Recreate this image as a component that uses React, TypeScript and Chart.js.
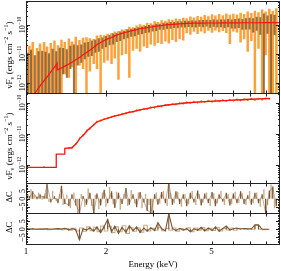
import React, { useEffect, useRef } from 'react';
import { Chart, registerables } from 'chart.js';

Chart.register(...registerables);

// ---------- data (fluxes in units of 1e-11 erg cm^-2 s^-1) ----------
const UNIT = 1e-11;

const ENERGY = [
  1.00, 1.03, 1.06, 1.10, 1.13, 1.17, 1.20, 1.24, 1.28, 1.32,
  1.36, 1.40, 1.45, 1.49, 1.54, 1.59, 1.64, 1.69, 1.74, 1.80,
  1.85, 1.91, 1.97, 2.03, 2.10, 2.16, 2.23, 2.30, 2.38, 2.45,
  2.53, 2.61, 2.69, 2.78, 2.86, 2.95, 3.05, 3.14, 3.24, 3.35,
  3.45, 3.56, 3.67, 3.79, 3.91, 4.03, 4.16, 4.29, 4.43, 4.57,
  4.71, 4.86, 5.02, 5.17, 5.34, 5.51, 5.68, 5.86, 6.04, 6.23,
  6.43, 6.63, 6.84, 7.06, 7.28, 7.51, 7.75, 7.99, 8.25, 8.50,
  8.77,
];

const ENERGY_B = [
  1.015, 1.045, 1.08, 1.115, 1.15, 1.185, 1.22, 1.26, 1.30, 1.34,
  1.38, 1.425, 1.47, 1.515, 1.565, 1.615, 1.665, 1.715, 1.77, 1.825,
  1.88, 1.94, 2.0, 2.065, 2.13, 2.195, 2.265, 2.34, 2.415, 2.49,
  2.57, 2.65, 2.735, 2.82, 2.905, 3.0, 3.095, 3.19, 3.295, 3.40,
  3.505, 3.615, 3.73, 3.85, 3.97, 4.095, 4.225, 4.36, 4.5, 4.64,
  4.785, 4.94, 5.095, 5.255, 5.425, 5.595, 5.77, 5.95, 6.135, 6.33,
  6.53, 6.735, 6.95, 7.17, 7.395, 7.63, 7.87, 8.12, 8.375, 8.635,
];

// panel 1: orange group error bars (upper / lower ends; 0 = runs off the axis)
const ORANGE_HI = [
  2.5, 1.9, 2.6, 1.6, 2.3, 2.6, 1.8, 2.4, 2.9, 2.0,
  3.1, 2.6, 3.4, 2.7, 3.9, 3.0, 3.6, 3.8, 3.5, 3.3,
  4.3, 4.6, 4.4, 5.0, 5.3, 5.9, 6.2, 7.0, 7.2, 8.6,
  8.4, 9.5, 10.5, 10.2, 11.8, 11.5, 13.4, 12.6, 14.5, 14.0,
  15.6, 15.0, 16.8, 16.2, 17.8, 17.0, 19.5, 18.2, 20.5, 19.0,
  22.0, 20.0, 23.5, 21.0, 24.0, 21.5, 25.0, 22.5, 24.5, 23.0,
  26.5, 24.0, 29.0, 26.0, 31.0, 27.5, 34.0, 29.0, 36.0, 30.0,
  38.0,
];
const ORANGE_LO = [
  0, 0, 0, 0, 0, 0, 0, 0, 0, 0,
  0, 0.2, 0.15, 0.35, 0, 0.4, 0.3, 0, 0.25, 0.45,
  0.3, 0, 0.5, 0.6, 0.45, 0.7, 0.13, 0.9, 1.0, 0.15,
  1.3, 1.5, 1.2, 1.8, 1.6, 2.1, 1.9, 2.4, 2.2, 2.7,
  2.3, 3.0, 2.6, 3.2, 2.9, 5.2, 4.6, 5.8, 4.9, 6.0,
  5.2, 6.3, 5.4, 6.5, 5.6, 6.2, 5.3, 2.2, 6.0, 5.5,
  2.5, 3.2, 1.2, 2.8, 0, 1.5, 0, 0.9, 0, 0,
  0,
];

// panel 1: brown group error bars
const BROWN_HI = [
  1.1, 1.4, 0.9, 1.25, 1.3, 1.2, 1.05, 1.5, 1.25, 1.65,
  1.6, 1.45, 1.9, 2.1, 2.0, 2.1, 2.5, 2.6, 2.9, 3.1,
  3.5, 3.7, 4.2, 4.5, 5.1, 5.4, 6.0, 6.3, 7.0, 7.4,
  7.9, 8.3, 8.9, 9.2, 10.0, 10.2, 10.9, 11.0, 11.8, 11.9,
  12.6, 12.7, 13.3, 13.4, 13.9, 13.9, 14.4, 14.3, 14.8, 14.8,
  15.0, 14.8, 15.4, 15.2, 15.5, 15.3, 16.0, 15.5, 16.0, 16.6,
  16.0, 17.0, 17.8, 17.1, 19.3, 18.6, 24.7, 21.0, 23.5, 22.5,
];
const BROWN_LO = [
  0, 0, 0, 0, 0, 0, 0, 0, 0, 0,
  0.2, 0.15, 0.3, 0, 0.4, 0.5, 0.65, 0.8, 0.85, 1.1,
  1.2, 1.5, 1.7, 2.0, 2.1, 2.6, 2.8, 3.2, 3.5, 3.9,
  4.1, 4.6, 4.8, 5.3, 5.5, 6.0, 6.2, 6.8, 6.8, 7.3,
  7.4, 7.8, 7.7, 8.2, 8.1, 8.5, 8.4, 8.2, 8.6, 8.3,
  8.8, 8.0, 8.6, 8.2, 8.3, 7.9, 8.3, 7.5, 7.6, 7.8,
  6.8, 7.0, 7.0, 5.5, 6.3, 4.6, 0, 5.0, 0, 4.5,
];

// panel 1: folded model
const MODEL1_E = [
  1.00, 1.03, 1.06, 1.10, 1.13, 1.17, 1.20, 1.24, 1.28, 1.31,
  1.31, 1.36, 1.40, 1.45, 1.49, 1.54, 1.59, 1.64, 1.69, 1.74,
  1.80, 1.85, 1.91, 1.97, 2.03, 2.10, 2.16, 2.23, 2.30, 2.38,
  2.45, 2.53, 2.61, 2.69, 2.78, 2.86, 2.95, 3.05, 3.14, 3.24,
  3.35, 3.56, 3.79, 4.03, 4.29, 4.57, 4.86, 5.17, 5.51, 5.86,
  6.23, 6.63, 7.06, 7.51, 7.99, 8.50, 9.05,
];
const MODEL1_V = [
  0.0126, 0.02, 0.035, 0.056, 0.079, 0.12, 0.16, 0.24, 0.35, 0.48,
  0.28, 0.33, 0.38, 0.45, 0.52, 0.63, 0.76, 0.93, 1.12, 1.35,
  1.7, 2.1, 2.5, 2.9, 3.3, 3.7, 4.2, 4.7, 5.1, 5.6,
  6.0, 6.5, 6.9, 7.4, 7.8, 8.1, 8.5, 8.9, 9.3, 9.5,
  10.0, 10.5, 10.9, 11.3, 11.5, 11.6, 11.7, 11.7, 11.8, 11.8,
  11.8, 11.9, 11.9, 11.9, 12.0, 12.0, 12.0,
];

// panel 2: unfolded model (steps at low energy)
const MODEL2_E = [
  1.0, 1.30, 1.30, 1.40, 1.40, 1.49, 1.55, 1.60, 1.66, 1.71,
  1.78, 1.85, 1.95, 2.05, 2.15, 2.26, 2.4, 2.55, 2.69, 2.85,
  3.0, 3.19, 3.4, 3.65, 3.97, 4.4, 4.9, 5.37, 6.0, 6.5,
  6.97, 7.6, 8.3,
];
const MODEL2_V = [
  0.084, 0.084, 0.226, 0.226, 0.345, 0.36, 0.50, 0.74, 1.0, 1.35,
  1.82, 2.44, 2.88, 3.31, 3.76, 4.17, 4.79, 5.37, 6.03, 6.61,
  7.24, 7.94, 8.61, 9.23, 10.0, 10.6, 11.2, 11.75, 12.3, 12.7,
  13.2, 13.6, 14.1,
];

// panel 2: unfolded data
const DATA2_V = [
  null, null, null, null, null, 0.086, null, null, null, null,
  null, null, 0.35, 0.36, 0.47, 0.72, 0.9, 1.28, 1.50, 2.0,
  2.5, 2.7, 3.05, 3.25, 3.55, 3.85, 4.05, 4.4, 4.65, 5.1,
  5.2, 5.75, 5.9, 6.5, 6.5, 7.2, 7.1, 7.9, 7.8, 8.7,
  8.6, 9.3, 9.0, 9.9, 9.6, 10.5, 10.1, 10.9, 10.4, 11.3,
  10.8, 11.8, 11.0, 12.0, 11.4, 12.4, 11.6, 12.6, 11.9, 13.0,
  12.2, 13.1, 12.4, 13.6, 12.5, 13.8, 12.9, 14.0, 13.5, null,
  null,
];

// panel 3: residuals (delta C), brown group at ENERGY, light group at ENERGY_B
const RES3 = [
  3.5, 1.0, 4.0, 0.5, 2.0, 1.0, 8.5, -1.5, 0.8, -2.0,
  7.5, -2.5, -4.0, 2.0, -3.5, -9.0, 1.0, -3.0, 3.0, -9.0,
  2.5, -3.5, 5.0, -2.0, 4.0, -5.0, 3.0, -2.5, 6.0, -3.0,
  2.0, -4.5, 3.5, -1.5, -7.0, -9.0, 2.0, -3.0, 3.5, -2.0,
  10.0, -3.0, 4.0, -2.5, 2.0, -4.0, 3.0, -1.5, 4.5, -3.5,
  2.5, -2.0, 3.5, -4.0, 2.0, -1.0, 3.0, -3.5, 2.5, -2.0,
  4.0, -2.5, 1.5, -3.0, 3.0, -2.0, 2.0, -9.0, 4.5, 7.0,
  -4.0,
];
const RES3_B = [
  2.0, 5.0, 1.5, 3.0, 0.5, 2.5, -1.0, 4.0, -0.5, 2.0,
  -3.0, 1.5, -5.0, 3.0, -8.0, 2.0, -4.0, 5.5, -3.5, 1.5,
  -5.5, 3.0, -4.0, 6.5, -2.5, 3.5, -6.0, 2.0, -3.5, 4.5,
  -2.0, 3.0, -5.0, 2.0, -3.0, -9.0, 3.0, -2.0, 4.0, -3.5,
  2.5, -2.0, 3.5, -4.0, 2.0, -2.5, 4.0, -3.0, 2.0, -1.5,
  3.0, -3.5, 2.5, -2.0, 4.0, -3.0, 2.0, -2.5, 3.5, -1.5,
  2.5, -3.0, 4.0, -2.0, 3.0, -4.0, 5.0, -3.0, 8.0, -5.0,
];

// panel 4: residuals of the second fit
const RES4 = [
  0.2, 0.1, 0.3, 0.0, 0.2, 0.1, 0.3, 0.0, 0.2, 0.4,
  0.1, 0.6, -0.3, 0.5, -0.4, -6.5, 0.3, -0.5, 1.0, -1.2,
  1.5, -2.0, 1.8, 6.0, -1.5, 2.0, -2.5, 1.2, -1.8, 2.2,
  -1.0, 1.5, -2.0, 0.8, -1.2, 1.0, -0.8, 4.0, 0.5, -1.0,
  9.5, 0.5, -0.8, 0.6, -0.5, 0.4, -1.5, 0.3, -0.6, 1.2,
  -1.0, 0.8, -0.8, 1.5, -1.2, 0.6, 2.0, -0.5, 0.4, 0.8,
  0.2, 0.5, 0.3, 0.2, 2.7, 2.7, 0.0, 0.0, 0.0, null,
  null,
];
const RES4_B = [
  0.0, 0.1, -0.1, 0.2, 0.0, 0.1, -0.2, 0.1, 0.3, 0.0,
  -0.3, 0.4, -0.5, 0.6, -1.0, 0.8, -1.2, 1.5, -0.8, 1.2,
  -1.5, 2.0, -1.0, 1.8, -2.0, 1.5, -1.5, 2.2, -2.5, 1.0,
  -1.2, 0.8, -1.8, 2.5, -1.0, 0.6, -0.5, 1.0, -0.8, 0.5,
  -0.6, 0.8, -1.2, 0.4, -0.3, 0.9, -1.4, 0.7, -0.5, 1.1,
  -0.9, 0.6, -0.7, 1.3, -1.0, 0.5, -0.4, 0.8, -0.6, 0.3,
  0.5, 0.2, 0.4, 0.0, 2.5, 0.1, -0.2, 0.0, null, null,
];

// axes
const X_MIN = 1;
const X_MAX = 9.05;
const Y1_MIN = 4.5e-13;
const Y1_MAX = 6.7e-10;
const Y2_MIN = 2.63e-13;
const Y2_MAX = 2.1e-10;
const R_MIN = -9;
const R_MAX = 10;

const X_TICK_VALUES = [1, 2, 5];
const X_TICK_LABELS = ['1', '2', '5'];
const X_TICK_MARKS = [2, 3, 4, 5, 6, 7, 8];
const LOG_TICK_VALUES = [1e-12, 1e-11, 1e-10];
const LOG_TICK_EXPS = ['\u221212', '\u221211', '\u221210'];
const RES_TICK_VALUES = [-5, 0, 5];
const RES_TICK_LABELS = ['\u22125', '0', '5'];
const X_TITLE = 'Energy (keV)';

// ---------- helpers ----------
const ORANGE = 'rgba(255,146,28,0.88)';
const BROWN = 'rgba(112,80,44,0.78)';
const RES_BROWN = '#7c5530';
const RES_TAN = '#c9ad88';
const RED = '#ff1010';
const SERIF = '"Liberation Serif","DejaVu Serif","Times New Roman",serif';

type Pt = { x: number; y: number | null };

function errorBars(E: number[], HI: number[], LO: number[], floor: number): Pt[] {
  const pts: Pt[] = [];
  E.forEach((e, i) => {
    const hi = HI[i] * UNIT;
    const lo = LO[i] > 0 ? Math.max(LO[i] * UNIT, floor) : floor;
    pts.push({ x: e, y: hi }, { x: e, y: lo }, { x: e, y: null });
  });
  return pts;
}

function relBars(E: number[], V: (number | null)[], frac: number): Pt[] {
  const pts: Pt[] = [];
  E.forEach((e, i) => {
    const v = V[i];
    if (v == null) return;
    pts.push({ x: e, y: v * UNIT * (1 + frac) }, { x: e, y: v * UNIT * (1 - frac) }, { x: e, y: null });
  });
  return pts;
}

// residual spikes: vertical segment from zero to the residual, with a +-err pad
function spikes(E: number[], V: (number | null)[], err: number): Pt[] {
  const pts: Pt[] = [];
  E.forEach((e, i) => {
    const v = V[i];
    if (v == null) return;
    const a = Math.min(0, v - err);
    const b = Math.max(0, v + err);
    pts.push({ x: e, y: b }, { x: e, y: a }, { x: e, y: null });
  });
  return pts;
}

function series(E: number[], V: (number | null)[], k = 1): Pt[] {
  return E.map((e, i) => ({ x: e, y: V[i] == null ? null : (V[i] as number) * k }));
}

type Part = { t: string; k?: 'sup' | 'sub' };

function drawRich(ctx: CanvasRenderingContext2D, parts: Part[], x: number, y: number, size: number, rotate: boolean) {
  ctx.save();
  ctx.translate(x, y);
  if (rotate) ctx.rotate(-Math.PI / 2);
  const fontOf = (p: Part) => `${p.k ? size * 0.68 : size}px ${SERIF}`;
  const widths = parts.map((p) => {
    ctx.font = fontOf(p);
    return ctx.measureText(p.t).width;
  });
  const total = widths.reduce((a, b) => a + b, 0);
  let cx = -total / 2;
  ctx.textAlign = 'left';
  ctx.textBaseline = 'alphabetic';
  parts.forEach((p, i) => {
    ctx.font = fontOf(p);
    const dy = p.k === 'sup' ? -size * 0.42 : p.k === 'sub' ? size * 0.25 : 0;
    ctx.fillText(p.t, cx, dy);
    cx += widths[i];
  });
  ctx.restore();
}

const FLUX_TITLE: Part[] = [
  { t: '\u03bdF' },
  { t: '\u03bd', k: 'sub' },
  { t: ' (ergs cm' },
  { t: '\u22122', k: 'sup' },
  { t: ' s' },
  { t: '\u22121', k: 'sup' },
  { t: ')' },
];

const framePlugin = {
  id: 'frames',
  afterDraw(chart: any) {
    const ctx: CanvasRenderingContext2D = chart.ctx;
    const xs = chart.scales.x;
    const L = Math.round(xs.left);
    const R = Math.round(xs.right);
    ctx.save();
    ctx.strokeStyle = '#222';
    ctx.lineWidth = 1;
    ctx.fillStyle = '#000';
    const panels = [
      { id: 'y1', log: true },
      { id: 'y2', log: true },
      { id: 'y3', log: false },
      { id: 'y4', log: false },
    ];
    panels.forEach((p) => {
      const s = chart.scales[p.id];
      const T = Math.round(s.top);
      const B = Math.round(s.bottom);
      ctx.strokeRect(L + 0.5, T + 0.5, R - L - 1, B - T);
      ctx.beginPath();
      X_TICK_MARKS.forEach((v) => {
        const px = Math.round(xs.getPixelForValue(v)) + 0.5;
        ctx.moveTo(px, T);
        ctx.lineTo(px, T + 3.5);
        ctx.moveTo(px, B + 1);
        ctx.lineTo(px, B - 2.5);
      });
      const yTick = (v: number, len: number) => {
        const py = Math.round(s.getPixelForValue(v)) + 0.5;
        if (py <= T + 1 || py >= B) return;
        ctx.moveTo(L, py);
        ctx.lineTo(L + len, py);
        ctx.moveTo(R, py);
        ctx.lineTo(R - len, py);
      };
      if (p.log) {
        for (let d = -14; d <= -9; d++) {
          for (let m = 1; m <= 9; m++) {
            const v = m * Math.pow(10, d);
            if (v > s.min && v < s.max) yTick(v, m === 1 ? 4 : 2);
          }
        }
      } else {
        for (let v = R_MIN + 1; v < R_MAX; v++) yTick(v, v % 5 === 0 ? 4 : 2);
      }
      ctx.stroke();

      if (p.log) {
        LOG_TICK_VALUES.forEach((v, i) => {
          const py = s.getPixelForValue(v);
          drawRich(ctx, [{ t: '10' }, { t: LOG_TICK_EXPS[i], k: 'sup' }], 24.5, py, 8, true);
        });
        drawRich(ctx, FLUX_TITLE, 12, (s.top + s.bottom) / 2 + 8, 9, true);
      } else {
        RES_TICK_VALUES.forEach((v, i) => {
          const py = s.getPixelForValue(v);
          drawRich(ctx, [{ t: RES_TICK_LABELS[i] }], 24.5, py, 8, true);
        });
        drawRich(ctx, [{ t: '\u0394C' }], 12, (s.top + s.bottom) / 2 - 1, 8.5, true);
      }
    });

    const bottom = chart.scales.y4.bottom;
    ctx.font = `9px ${SERIF}`;
    ctx.textAlign = 'center';
    ctx.textBaseline = 'alphabetic';
    X_TICK_VALUES.forEach((v, i) => {
      ctx.fillText(X_TICK_LABELS[i], xs.getPixelForValue(v), bottom + 9.5);
    });
    ctx.fillText(X_TITLE, (xs.left + xs.right) / 2, bottom + 23);
    ctx.restore();
  },
};

export default function App() {
  const ref = useRef<HTMLCanvasElement>(null);

  useEffect(() => {
    document.body.style.margin = '0';
    const canvas = ref.current;
    if (!canvas) return;

    const datasets: any[] = [
      // panel 1
      { label: 'model1', data: series(MODEL1_E, MODEL1_V, UNIT), yAxisID: 'y1', borderColor: RED, borderWidth: 1.2, order: 0 },
      { label: 'brown', data: errorBars(ENERGY_B, BROWN_HI, BROWN_LO, Y1_MIN), yAxisID: 'y1', borderColor: BROWN, borderWidth: 2.0, order: 2 },
      { label: 'orange', data: errorBars(ENERGY, ORANGE_HI, ORANGE_LO, Y1_MIN), yAxisID: 'y1', borderColor: ORANGE, borderWidth: 2.5, order: 3 },
      // panel 2
      { label: 'model2', data: series(MODEL2_E, MODEL2_V, UNIT), yAxisID: 'y2', borderColor: RED, borderWidth: 1.3, order: 1 },
      { label: 'data2', data: series(ENERGY, DATA2_V, UNIT), yAxisID: 'y2', borderColor: 'rgba(200,120,50,0.85)', borderWidth: 1, order: 2 },
      { label: 'data2err', data: relBars(ENERGY, DATA2_V, 0.07), yAxisID: 'y2', borderColor: 'rgba(255,146,28,0.9)', borderWidth: 1, order: 2 },
      // panel 3
      { label: 'res3b', data: spikes(ENERGY_B, RES3_B, 1), yAxisID: 'y3', borderColor: RES_TAN, borderWidth: 1.4, order: 2 },
      { label: 'res3', data: spikes(ENERGY, RES3, 0.8), yAxisID: 'y3', borderColor: RES_BROWN, borderWidth: 1.3, order: 1 },
      { label: 'res3line', data: series(ENERGY, RES3), yAxisID: 'y3', borderColor: 'rgba(124,85,48,0.6)', borderWidth: 0.8, order: 1 },
      // panel 4
      { label: 'res4b', data: series(ENERGY_B, RES4_B), yAxisID: 'y4', borderColor: RES_TAN, borderWidth: 1.1, stepped: 'middle', order: 2 },
      { label: 'res4', data: series(ENERGY, RES4), yAxisID: 'y4', borderColor: RES_BROWN, borderWidth: 1.1, order: 1 },
      { label: 'res4s', data: spikes(ENERGY, RES4, 0), yAxisID: 'y4', borderColor: RES_BROWN, borderWidth: 1.1, order: 1 },
    ].map((d) => ({ pointRadius: 0, fill: false, tension: 0, spanGaps: false, clip: 0, ...d }));

    const chart = new Chart(canvas, {
      type: 'line',
      data: { datasets },
      options: {
        animation: false,
        responsive: false,
        events: [],
        layout: { padding: { left: 26, right: 1, top: 1, bottom: 27 } },
        plugins: { legend: { display: false }, tooltip: { enabled: false } },
        scales: {
          x: { type: 'logarithmic', min: X_MIN, max: X_MAX, display: false, position: 'bottom' },
          y1: { type: 'logarithmic', min: Y1_MIN, max: Y1_MAX, display: false, position: 'right', stack: 'panels', stackWeight: 92, weight: 1 },
          y2: { type: 'logarithmic', min: Y2_MIN, max: Y2_MAX, display: false, position: 'right', stack: 'panels', stackWeight: 90, weight: 2 },
          y3: { type: 'linear', min: R_MIN, max: R_MAX, display: false, position: 'right', stack: 'panels', stackWeight: 30, weight: 3 },
          y4: { type: 'linear', min: R_MIN, max: R_MAX, display: false, position: 'right', stack: 'panels', stackWeight: 31, weight: 4 },
        },
      } as any,
      plugins: [framePlugin],
    });
    return () => chart.destroy();
  }, []);

  return (
    <div style={{ width: 281, height: 271 }}>
      <canvas ref={ref} width={281} height={271} style={{ display: 'block' }} />
    </div>
  );
}
